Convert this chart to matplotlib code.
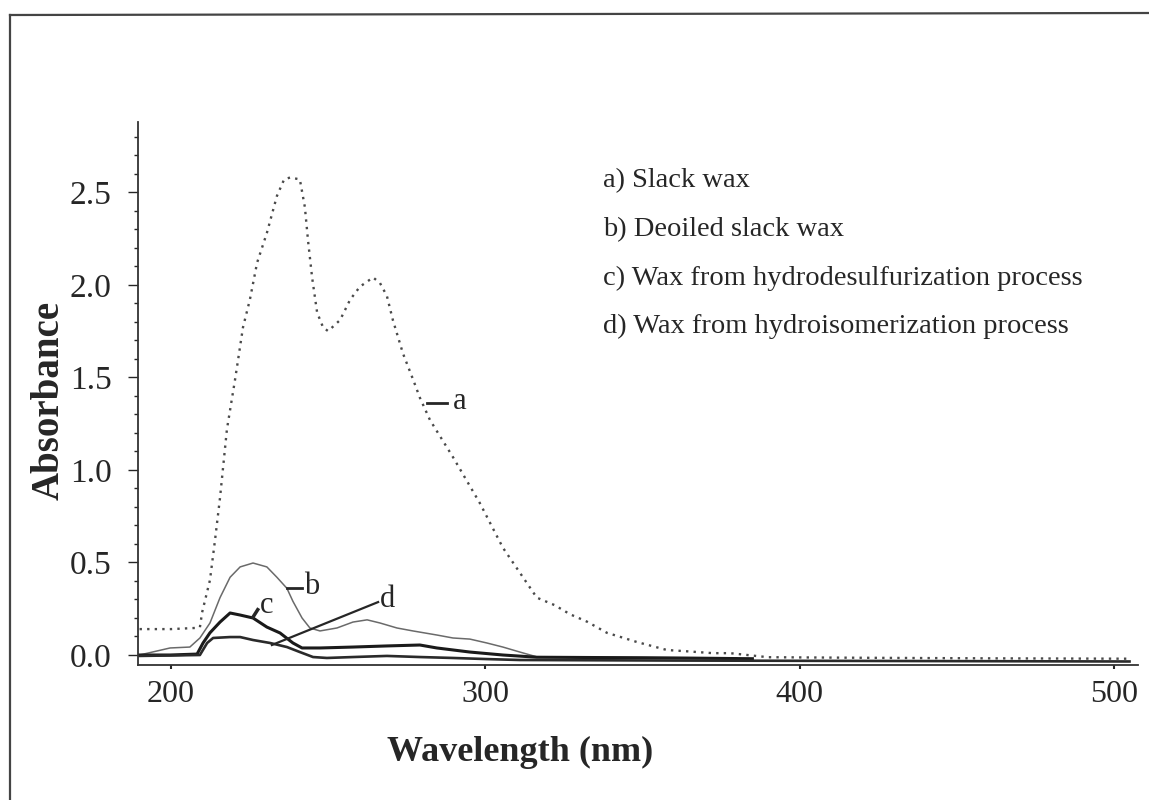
import matplotlib
matplotlib.use("Agg")
import matplotlib.pyplot as plt
from matplotlib.lines import Line2D
from matplotlib.ticker import MultipleLocator

# a) Slack wax
wl_a = [190, 200, 207.6, 209.2, 209.9, 212.4, 214.0, 215.6, 217.8, 220.4, 221.3,
        222.9, 225.1, 227.4, 230.5, 233.7, 236.0, 237.9, 241.0, 242.6, 243.6,
        244.9, 246.5, 248.4, 250.0, 253.8, 257.0, 260.1, 264.3, 266.5, 268.7,
        270.6, 273.8, 277.0, 279.2, 282.4, 289.7, 298.3, 305.6, 316.4, 322.0,
        327.0, 332.4, 338.7, 348.3, 357.8, 364.2, 372.4, 377.9, 390, 420, 460, 505]
abs_a = [0.14, 0.14, 0.146, 0.15, 0.23, 0.405, 0.62, 0.85, 1.22, 1.49, 1.59,
         1.77, 1.92, 2.12, 2.28, 2.48, 2.57, 2.58, 2.57, 2.42, 2.24,
         2.04, 1.85, 1.77, 1.75, 1.81, 1.92, 1.99, 2.04, 2.01, 1.94,
         1.81, 1.63, 1.49, 1.39, 1.27, 1.07, 0.82, 0.58, 0.31, 0.27,
         0.22, 0.18, 0.12, 0.07, 0.027, 0.02, 0.01, 0.01, -0.012, -0.015, -0.018, -0.02]

# b) Deoiled slack wax
wl_b = [190, 199.7, 206.0, 209.2, 212.4, 215.6, 218.8, 222.0, 226.1, 230.5, 233.7,
        236.9, 238.8, 241.7, 244.2, 247.4, 252.8, 257.9, 262.4, 266.5, 271.9,
        277.0, 284.6, 289.7, 295.1, 300.5, 305.6, 311.0, 316.4, 340, 380]
abs_b = [0.0, 0.038, 0.043, 0.092, 0.173, 0.31, 0.42, 0.476, 0.497, 0.476, 0.42,
         0.36, 0.29, 0.20, 0.146, 0.13, 0.146, 0.178, 0.19, 0.173, 0.146,
         0.13, 0.108, 0.092, 0.086, 0.065, 0.043, 0.016, -0.01, -0.012, -0.015]

# c) Wax from hydrodesulfurization process
wl_c = [190, 199.7, 208.3, 210.2, 212.4, 215.6, 218.8, 222.0, 226.1, 230.5, 234.7,
        238.8, 241.7, 247.4, 257.9, 268.7, 279.2, 284.6, 295.1, 305.6, 316.4, 350, 385]
abs_c = [0.0, 0.0, 0.005, 0.065, 0.12, 0.178, 0.227, 0.216, 0.2, 0.151, 0.119,
         0.065, 0.038, 0.038, 0.043, 0.049, 0.054, 0.038, 0.016, 0.0, -0.012, -0.015, -0.02]

# d) Wax from hydroisomerization process
wl_d = [190, 209.2, 211.5, 213.4, 218.8, 222.0, 226.1, 231.5, 236.9, 241.0, 245.2,
        249.6, 257.9, 268.7, 279.2, 289.7, 300.5, 311.0, 360, 420, 505]
abs_d = [-0.005, 0.0, 0.065, 0.092, 0.097, 0.097, 0.081, 0.065, 0.043, 0.016, -0.011,
         -0.016, -0.011, -0.005, -0.011, -0.016, -0.022, -0.027, -0.03, -0.032, -0.035]

legend_lines = [
    "a) Slack wax",
    "b) Deoiled slack wax",
    "c) Wax from hydrodesulfurization process",
    "d) Wax from hydroisomerization process",
]

SERIF = ["Liberation Serif", "DejaVu Serif"]
INK = "#262626"


def plot_curves(ax):
    ax.plot(wl_a, abs_a, color="#4a4a4a", lw=1.7, linestyle=(0, (1, 2.2)))
    ax.plot(wl_b, abs_b, color="#6a6a6a", lw=1.1)
    ax.plot(wl_c, abs_c, color="#1a1a1a", lw=2.2)
    ax.plot(wl_d, abs_d, color="#2a2a2a", lw=1.9)


def label_curves(ax):
    kw = dict(fontsize=22, family=SERIF, color=INK, va="center", ha="left")
    # a
    ax.plot([281.5, 287.8], [1.362, 1.362], color=INK, lw=2)
    ax.text(289.8, 1.37, "a", **kw)
    # b
    ax.plot([236.9, 241.7], [0.362, 0.362], color=INK, lw=2)
    ax.text(242.4, 0.37, "b", **kw)
    # c
    ax.plot([226.1, 227.6], [0.205, 0.245], color=INK, lw=2.5)
    ax.text(228.3, 0.27, "c", **kw)
    # d
    ax.plot([232.1, 265.9], [0.054, 0.286], color=INK, lw=1.6)
    ax.text(266.6, 0.30, "d", **kw)


def style_axes(ax):
    ax.set_xlim(189.5, 507.7)
    ax.set_ylim(-0.054, 2.88)
    for side in ("top", "right"):
        ax.spines[side].set_visible(False)
    for side in ("left", "bottom"):
        ax.spines[side].set_color("#333333")
        ax.spines[side].set_linewidth(1.3)

    ax.set_xticks([200, 300, 400, 500])
    ax.set_yticks([0.0, 0.5, 1.0, 1.5, 2.0, 2.5])
    ax.set_yticklabels(["0.0", "0.5", "1.0", "1.5", "2.0", "2.5"])
    ax.yaxis.set_minor_locator(MultipleLocator(0.1))
    ax.tick_params(axis="y", which="major", direction="out", length=7, width=1,
                   pad=12, labelsize=24, colors=INK)
    ax.tick_params(axis="y", which="minor", direction="out", length=3, width=1,
                   colors=INK)
    ax.tick_params(axis="x", which="major", direction="out", length=3, width=1.5,
                   pad=8, labelsize=23, colors=INK)
    for lab in ax.get_xticklabels() + ax.get_yticklabels():
        lab.set_family(SERIF)

    ax.set_xlabel("Wavelength (nm)", fontsize=26, fontweight="bold",
                  family=SERIF, color=INK)
    ax.xaxis.set_label_coords(0.382, -0.13)
    ax.set_ylabel("Absorbance", fontsize=28, fontweight="bold",
                  family=SERIF, color=INK)
    ax.yaxis.set_label_coords(-0.07, 0.488)


def add_legend_text(fig):
    y0 = 1 - 181 / 800
    step = 48.5 / 800
    for i, line in enumerate(legend_lines):
        fig.text(603 / 1149, y0 - i * step, line, fontsize=20.5, family=SERIF,
                 color=INK, va="center", ha="left")


def add_frame(fig):
    fig.add_artist(Line2D([10 / 1149, 10 / 1149], [0, 1 - 15 / 800],
                          transform=fig.transFigure, color="#444444", lw=1.6))
    fig.add_artist(Line2D([10 / 1149, 1], [1 - 15 / 800, 1 - 13 / 800],
                          transform=fig.transFigure, color="#444444", lw=1.6))


if __name__ == "__main__":
    fig = plt.figure(figsize=(11.49, 8.0), dpi=100)
    ax = fig.add_axes([138 / 1149, 1 - 665 / 800, 1000 / 1149, 543 / 800])
    plot_curves(ax)
    label_curves(ax)
    style_axes(ax)
    add_legend_text(fig)
    add_frame(fig)
    fig.savefig("out.png", dpi=100)
